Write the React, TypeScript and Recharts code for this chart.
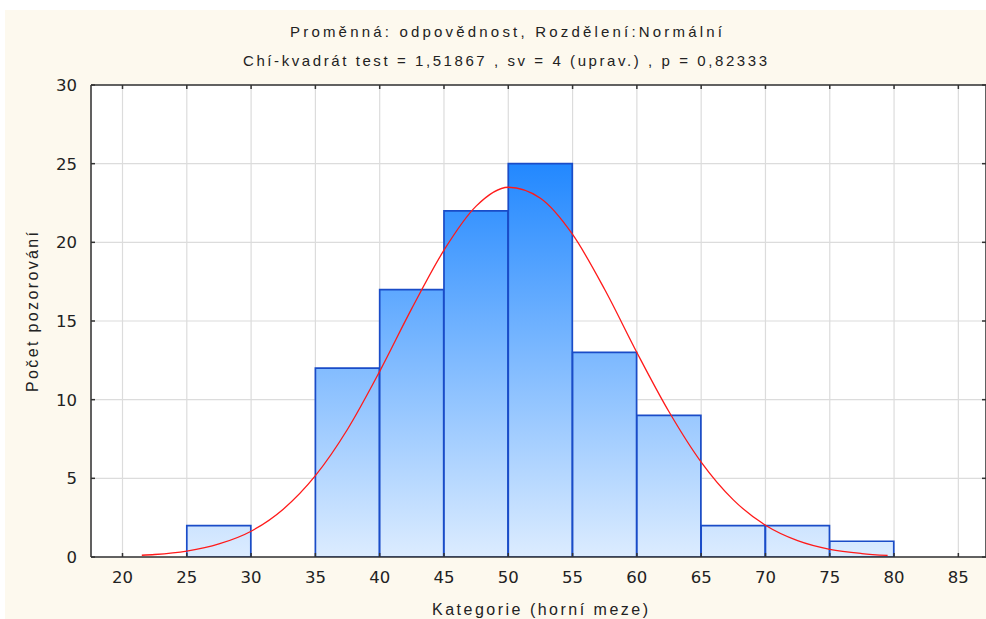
import React from "react";
import {
  ComposedChart,
  Bar,
  Line,
  XAxis,
  YAxis,
  CartesianGrid,
} from "recharts";

// Histogram bins (upper limits 30..80, centers used for bar placement)
const binCenters = [27.5, 32.5, 37.5, 42.5, 47.5, 52.5, 57.5, 62.5, 67.5, 72.5, 77.5];
const binCounts = [2, 0, 12, 17, 22, 25, 13, 9, 2, 2, 1];

// Fitted normal curve
const curveX = [21.5, 22.5, 25, 27.5, 30, 32.5, 35, 37.5, 40, 42.5, 45, 47.5, 50, 52.5, 55, 57.5, 60, 62.5, 65, 67.5, 70, 72.5, 75, 77.5, 79.5];
const curveY = [0.11, 0.16, 0.38, 0.83, 1.64, 3.04, 5.17, 8.12, 11.8, 15.8, 19.5, 22.3, 23.5, 22.8, 20.5, 17.0, 13.0, 9.23, 6.03, 3.63, 2.02, 1.04, 0.49, 0.22, 0.1];

const xTicks = [20, 25, 30, 35, 40, 45, 50, 55, 60, 65, 70, 75, 80, 85];
const yTicks = [0, 5, 10, 15, 20, 25, 30];

const titleLine1 = "Proměnná: odpovědnost, Rozdělení:Normální";
const titleLine2 = "Chí-kvadrát test = 1,51867 , sv = 4 (uprav.) , p = 0,82333";
const xLabel = "Kategorie (horní meze)";
const yLabel = "Počet pozorování";

const X_DOMAIN: [number, number] = [17.55, 87.15];
const Y_DOMAIN: [number, number] = [0, 30];

const barData = binCenters.map((x, i) => ({ x, count: binCounts[i] }));
const curveData = curveX.map((x, i) => ({ x, y: curveY[i] }));

const W = 986;
const H = 619;
const CHART_W = 996;
const LEFT_AXIS_W = 60;
const RIGHT_AXIS_W = 10;
const BOTTOM_AXIS_H = 30;
const TOP_AXIS_H = 10;
const PLOT_TOP = 85;
const PLOT_BOTTOM = 557;
const PLOT_LEFT = 91;
const M = {
  top: PLOT_TOP - TOP_AXIS_H,
  right: 0,
  bottom: H - PLOT_BOTTOM - BOTTOM_AXIS_H,
  left: PLOT_LEFT - LEFT_AXIS_W,
};
const FONT = "'Liberation Sans', Arial, sans-serif";
const TICK_FONT = "'DejaVu Sans', Verdana, sans-serif";
const tickStyle = { fontSize: 16.5, fill: "#222", fontFamily: TICK_FONT };
const axisLineStyle = { stroke: "#333", strokeWidth: 1.5 };

export default function App() {
  const plotH = PLOT_BOTTOM - PLOT_TOP;
  const gradTop = PLOT_TOP + plotH * (1 - 25 / 30);
  const gradBottom = PLOT_BOTTOM;
  return (
    <div style={{ position: "absolute", left: 0, top: 0, width: W, height: H, background: "#fff", overflow: "hidden" }}>
      <div style={{ position: "absolute", left: 5, top: 10, right: 0, bottom: 0, background: "#fdf9ee" }} />
      <div style={{ position: "absolute", left: 0, top: 0 }}>
        <ComposedChart width={CHART_W} height={H} data={barData} margin={M} barCategoryGap={0} barGap={0}>
          <defs>
            <linearGradient id="barGrad" gradientUnits="userSpaceOnUse" x1={0} y1={gradTop} x2={0} y2={gradBottom}>
              <stop offset="0%" stopColor="#2288ff" />
              <stop offset="100%" stopColor="#dcecff" />
            </linearGradient>
          </defs>
          <CartesianGrid stroke="#dcdcdc" strokeWidth={1.2} fill="#ffffff" fillOpacity={1} />
          <XAxis
            dataKey="x"
            type="number"
            domain={X_DOMAIN}
            allowDataOverflow
            ticks={xTicks}
            interval={0}
            height={BOTTOM_AXIS_H}
            tickSize={-4}
            tickMargin={18}
            tick={tickStyle}
            axisLine={axisLineStyle}
            tickLine={axisLineStyle}
          />
          <XAxis
            xAxisId="top"
            orientation="top"
            dataKey="x"
            type="number"
            domain={X_DOMAIN}
            allowDataOverflow
            ticks={xTicks}
            interval={0}
            height={TOP_AXIS_H}
            tickSize={-4}
            tickFormatter={() => ""}
            axisLine={axisLineStyle}
            tickLine={axisLineStyle}
          />
          <YAxis
            type="number"
            domain={Y_DOMAIN}
            allowDataOverflow
            ticks={yTicks}
            interval={0}
            width={LEFT_AXIS_W}
            tickSize={-4}
            tickMargin={18}
            tick={tickStyle}
            axisLine={axisLineStyle}
            tickLine={axisLineStyle}
          />
          <YAxis
            yAxisId="right"
            orientation="right"
            type="number"
            domain={Y_DOMAIN}
            allowDataOverflow
            ticks={yTicks}
            interval={0}
            width={RIGHT_AXIS_W}
            tickSize={-4}
            tickFormatter={() => ""}
            axisLine={axisLineStyle}
            tickLine={axisLineStyle}
          />
          <Bar
            dataKey="count"
            fill="url(#barGrad)"
            stroke="#1a4cc8"
            strokeWidth={1.7}
            isAnimationActive={false}
          />
          <Line
            data={curveData}
            xAxisId="top"
            yAxisId="right"
            dataKey="y"
            type="monotone"
            stroke="#ff1a1a"
            strokeWidth={1.3}
            dot={false}
            activeDot={false}
            isAnimationActive={false}
          />
        </ComposedChart>
      </div>
      <svg width={W} height={H} style={{ position: "absolute", left: 0, top: 0, pointerEvents: "none" }}>
        <g fontFamily={FONT} fill="#222">
          <text x={506} y={37} fontSize={15} textAnchor="middle" textLength={432} lengthAdjust="spacing">{titleLine1}</text>
          <text x={505} y={66} fontSize={15} textAnchor="middle" textLength={524} lengthAdjust="spacing">{titleLine2}</text>
          <text x={540} y={615} fontSize={16} textAnchor="middle" textLength={216} lengthAdjust="spacing">{xLabel}</text>
          <text x={0} y={0} fontSize={16} textAnchor="middle" textLength={160} lengthAdjust="spacing" transform="translate(38,312) rotate(-90)">{yLabel}</text>
        </g>
      </svg>
    </div>
  );
}
